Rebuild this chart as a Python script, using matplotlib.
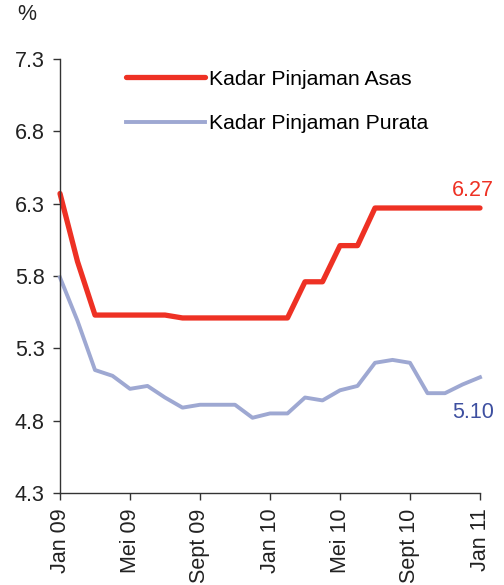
import numpy as np
import matplotlib.pyplot as plt

plt.rcParams['font.family'] = ['Liberation Sans', 'DejaVu Sans']

# bulanan, Jan 09 - Jan 11
bulan = list(range(25))
asas = [6.37, 5.90, 5.53, 5.53, 5.53, 5.53, 5.53, 5.51, 5.51, 5.51, 5.51, 5.51, 5.51,
        5.51, 5.76, 5.76, 6.01, 6.01, 6.27, 6.27, 6.27, 6.27, 6.27, 6.27, 6.27]
purata = [5.79, 5.49, 5.15, 5.11, 5.02, 5.04, 4.96, 4.89, 4.91, 4.91, 4.91, 4.82, 4.85,
          4.85, 4.96, 4.94, 5.01, 5.04, 5.20, 5.22, 5.20, 4.99, 4.99, 5.05, 5.10]
tick_pos = [0, 4, 8, 12, 16, 20, 24]
tick_lbl = ["Jan 09", "Mei 09", "Sept 09", "Jan 10", "Mei 10", "Sept 10", "Jan 11"]
y_ticks = [4.3, 4.8, 5.3, 5.8, 6.3, 6.8, 7.3]

merah = '#ee3124'
biru = '#9ea8d2'

fig = plt.figure(figsize=(5.04, 5.85), dpi=100)
ax = fig.add_axes([60/504, 1-493/585, 420/504, 434/585])

ax.plot(bulan, asas, color=merah, lw=3.8, solid_capstyle='round', label='Kadar Pinjaman Asas')
ax.plot(bulan, purata, color=biru, lw=2.8, label='Kadar Pinjaman Purata')

ax.set_xlim(0, 24)
ax.set_ylim(4.3, 7.3)
ax.set_yticks(y_ticks)
ax.set_yticklabels([f"{v:.1f}" for v in y_ticks])
ax.set_xticks(tick_pos)
ax.set_xticklabels(tick_lbl, rotation=90)

for s in ['top', 'right']:
    ax.spines[s].set_visible(False)
for s in ['left', 'bottom']:
    ax.spines[s].set_color('#333333')
    ax.spines[s].set_linewidth(1.0)
ax.tick_params(axis='both', direction='out', length=5, width=1.0, color='#333333',
               labelsize=15.5, labelcolor='#222222')
ax.tick_params(axis='y', pad=6)
ax.tick_params(axis='x', pad=6)

leg = ax.legend(loc='upper left', bbox_to_anchor=(0.157, 0.975), frameon=False,
                fontsize=15.3, handlelength=3.7, handletextpad=0.2, labelspacing=1.2,
                borderpad=0, borderaxespad=0)

ax.annotate("6.27", xy=(24, 6.27), xytext=(10, 5), textcoords='offset points',
            color=merah, fontsize=15.5, ha='right', va='bottom')
ax.annotate("5.10", xy=(24, 4.855), xytext=(10, 0), textcoords='offset points',
            color='#3d4fa0', fontsize=15.5, ha='right', va='center')
fig.text(17/504, 1-15/585, "%", fontsize=15.5, color='#222222', va='center', ha='left')

for ln in ax.lines:
    ln.set_clip_on(False)

fig.savefig('out.png', dpi=100)
